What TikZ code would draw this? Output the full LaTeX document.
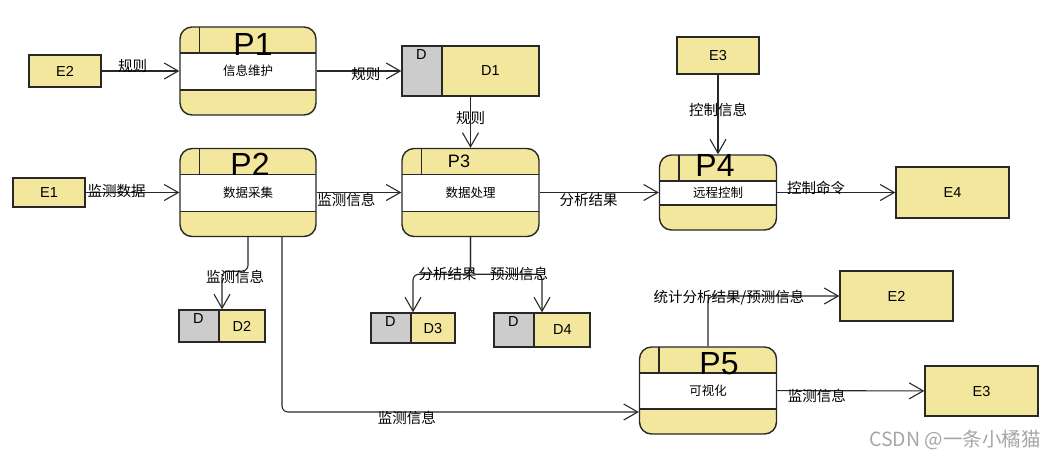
\documentclass[tikz,border=0pt]{standalone}
\usepackage{fontspec}
\setmainfont{Liberation Sans}
\newfontfamily\cjk{Noto Sans CJK SC}
\usetikzlibrary{positioning}
\usetikzlibrary{arrows.meta}
\definecolor{dfdyellow}{RGB}{243,231,157}
\definecolor{dfdgray}{RGB}{204,204,204}
\definecolor{dfdline}{RGB}{40,40,40}

\begin{document}
\begin{tikzpicture}[
    x=1pt, y=-1pt,
    proc/.style={rectangle, draw=dfdline, line width=1.4pt, fill=dfdyellow, rounded corners=12pt, font=\fontsize{12.5}{14}\selectfont\cjk,
        path picture={
            \fill[white, sharp corners] ([yshift=-26pt]path picture bounding box.north west) rectangle ([yshift=25pt]path picture bounding box.south east);
            \draw[dfdline, line width=1.4pt, sharp corners] ([yshift=-26pt]path picture bounding box.north west) -- ([yshift=-26pt]path picture bounding box.north east);
            \draw[dfdline, line width=1.4pt, sharp corners] ([yshift=25pt]path picture bounding box.south west) -- ([yshift=25pt]path picture bounding box.south east);
            \draw[dfdline, line width=1.4pt, sharp corners] ([xshift=19.5pt]path picture bounding box.north west) -- ([xshift=19.5pt, yshift=-26pt]path picture bounding box.north west);
        }},
    store/.style={rectangle, draw=dfdline, line width=1.4pt, fill=dfdyellow, inner sep=0pt, font=\fontsize{14.5}{16}\selectfont,
        path picture={
            \fill[dfdgray] (path picture bounding box.north west) rectangle ([xshift=40pt]path picture bounding box.south west);
            \draw[dfdline, line width=1.4pt] ([xshift=40pt]path picture bounding box.north west) -- ([xshift=40pt]path picture bounding box.south west);
        }},
    ext/.style={rectangle, draw=dfdline, line width=1.4pt, fill=dfdyellow, font=\fontsize{14.5}{16}\selectfont},
    dtag/.style={inner sep=0pt, font=\fontsize{14.5}{16}\selectfont},
    ptitle/.style={inner sep=0pt, font=\fontsize{32}{34}\selectfont},
    lbl/.style={inner sep=0pt, font=\fontsize{14.5}{16}\selectfont\cjk},
    arrow/.style={-{Straight Barb[length=14pt, width=16pt]}, line width=1.1pt, draw=dfdline},
    bendarrow/.style={arrow, rounded corners=6pt}
]
\useasboundingbox (0,0) rectangle (1062,459);

% External entities
\node[ext, minimum width=72pt, minimum height=32pt] (e2l) at (65,71) {E2};
\node[ext, minimum width=72pt, minimum height=29pt] (e1) at (49,192.5) {E1};
\node[ext, minimum width=82pt, minimum height=37pt] (e3t) at (718,55.5) {E3};
\node[ext, minimum width=113pt, minimum height=51pt] (e4) at (952.5,192.5) {E4};
\node[ext, minimum width=113pt, minimum height=50pt] (e2r) at (896.5,296) {E2};
\node[ext, minimum width=113pt, minimum height=50pt] (e3r) at (981.5,391) {E3};

% Processes
\node[proc, minimum width=136pt, minimum height=88pt] (p1) at (248,71) {信息维护};
\node[proc, minimum width=136pt, minimum height=88pt] (p2) at (248,192.5) {数据采集};
\node[proc, minimum width=137pt, minimum height=88pt] (p3) at (470.5,192.5) {数据处理};
\node[proc, minimum width=117pt, minimum height=75pt] (p4) at (718,192.5) {远程控制};
\node[proc, minimum width=137pt, minimum height=87pt] (p5) at (708,390.5) {可视化};

\node[ptitle] (p1title) at (253,44.5) {P1};
\node[ptitle] (p2title) at (250,164.5) {P2};
\node[ptitle, font=\fontsize{18}{20}\selectfont] (p3title) at (459,161) {P3};
\node[ptitle] (p4title) at (715,165) {P4};
\node[ptitle] (p5title) at (719,363.5) {P5};

% Data stores
\node[store, minimum width=137pt, minimum height=50pt] (d1) at (470.5,71) {\hspace*{40pt}D1};
\node[store, minimum width=86pt, minimum height=32pt] (d2) at (222,326) {\hspace*{40pt}D2};
\node[store, minimum width=84pt, minimum height=30pt] (d3) at (413,328) {\hspace*{40pt}D3};
\node[store, minimum width=96pt, minimum height=34pt] (d4) at (542,330) {\hspace*{41pt}D4};

\node[dtag] (d1tag) at ([xshift=20pt, yshift=-9pt]d1.north west) {D};
\node[dtag] (d2tag) at ([xshift=20pt, yshift=-9pt]d2.north west) {D};
\node[dtag] (d3tag) at ([xshift=20pt, yshift=-9pt]d3.north west) {D};
\node[dtag] (d4tag) at ([xshift=20pt, yshift=-9pt]d4.north west) {D};

% Flows
\draw[arrow] (e2l) -- node[lbl, pos=0.4, yshift=5pt] (l1) {规则} (p1);
\draw[arrow] (p1) -- node[lbl, pos=0.58, yshift=-3pt] (l2) {规则} (d1.west);
\draw[arrow] (d1) -- node[lbl, pos=0.41] (l3) {规则} (p3);
\draw[arrow] (e3t) -- node[lbl, pos=0.44] (l4) {控制信息} (p4);
\draw[arrow] (e1) -- node[lbl, pos=0.33, yshift=1.5pt] (l5) {监测数据} (p2);
\draw[arrow] (p2) -- node[lbl, pos=0.35, yshift=-7pt] (l6) {监测信息} (p3);
\draw[arrow] (p3) -- node[lbl, pos=0.41, yshift=-7pt] (l7) {分析结果} (p4);
\draw[arrow] (p4) -- node[lbl, pos=0.33, yshift=5pt] (l8) {控制命令} (e4);
\draw[arrow] (p5) -- node[lbl, pos=0.27, yshift=-5pt] (l9) {监测信息} (e3r);
\draw[bendarrow] (p5.north) |- node[lbl, pos=0.58, yshift=-2pt] (l10) {统计分析结果/预测信息} (e2r.west);

% Branches to the stores
\draw[bendarrow] (p2.south) -- ++(0,34) -| node[lbl, pos=0.25, yshift=-6pt] (l11) {监测信息} (d2.north);
\draw[bendarrow] (p3.south) -- ++(0,37) -| node[lbl, pos=0.2] (l12) {分析结果} (d3.north);
\draw[bendarrow] (p3.south) -- ++(0,37) -| node[lbl, pos=0.34] (l13) {预测信息} (d4.north);
\draw[bendarrow] ([xshift=34pt]p2.south) |- node[lbl, pos=0.675, yshift=-6pt] (l14) {监测信息} ([yshift=-21.5pt]p5.west);

% Watermark
\node[font=\fontsize{19.5}{21}\selectfont\cjk, text=black!35] (mark) at (955,440) {CSDN @一条小橘猫};

\end{tikzpicture}
\end{document}
